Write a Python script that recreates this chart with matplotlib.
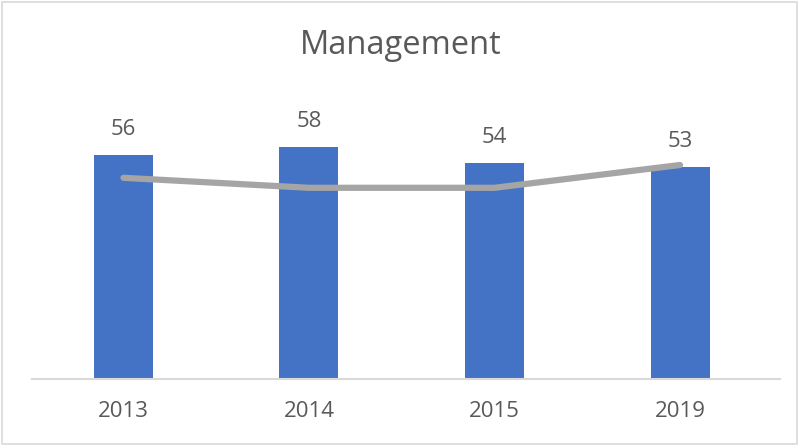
import matplotlib.pyplot as plt
from matplotlib.patches import Rectangle

years = ['2013', '2014', '2015', '2019']
bar_vals = [56, 58, 54, 53]
line_vals = [50.3, 47.8, 47.8, 53.5]

plt.rcParams['font.family'] = ['Open Sans', 'DejaVu Sans']

fig = plt.figure(figsize=(7.99, 4.46), dpi=100)
ax = fig.add_axes([32 / 799, 1 - 379 / 446, 748 / 799, 280 / 446])

x = range(len(years))
ax.bar(x, bar_vals, width=0.318, color='#4472c4', zorder=2)
ax.plot(x, line_vals, color='#a5a5a5', lw=4.5, solid_capstyle='round', zorder=3)

for i, v in enumerate(bar_vals):
    ax.annotate(str(v), (i, v), xytext=(0, 11), textcoords='offset points',
                ha='center', va='bottom', fontsize=16, color='#595959')

ax.set_ylim(0, 70)
ax.set_xlim(-0.493, 3.539)
ax.set_xticks(list(x))
ax.set_xticklabels(years, fontsize=16, color='#595959')
ax.tick_params(axis='x', length=0, pad=16)
ax.set_yticks([])
for s in ['top', 'right', 'left']:
    ax.spines[s].set_visible(False)
ax.spines['bottom'].set_color('#d9d9d9')
ax.spines['bottom'].set_linewidth(1.5)

fig.text(401 / 799, 1 - 45 / 446, 'Management', ha='center', va='center',
         fontsize=23.5, color='#595959')

fig.patches.append(Rectangle((2 / 799, 2 / 446), 795 / 799, 442 / 446,
                             transform=fig.transFigure, fill=False,
                             edgecolor='#d9d9d9', lw=1.2))

fig.savefig('out.png', dpi=100)
